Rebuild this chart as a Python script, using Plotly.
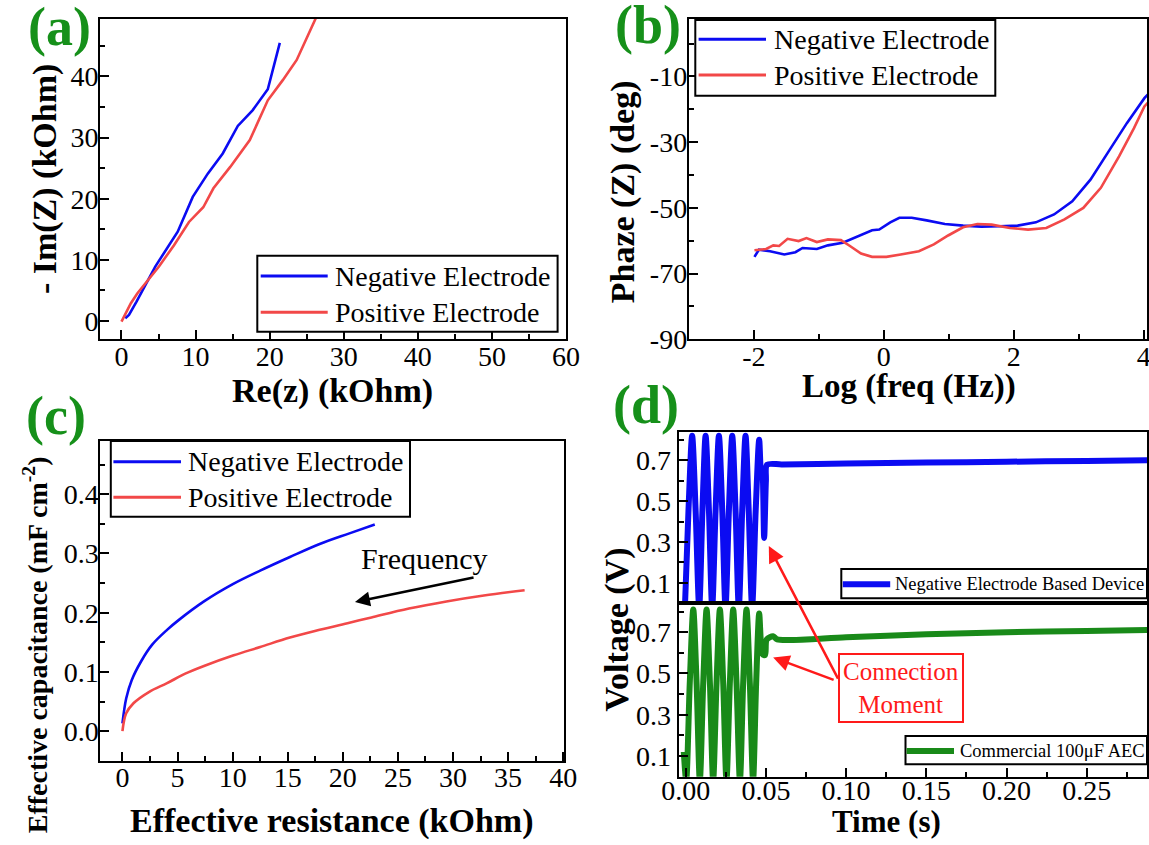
import plotly.graph_objects as go

W, H = 1149, 845
SERIF = "Liberation Serif, Times New Roman, DejaVu Serif, serif"
BLUE = "#0b0bf2"
RED = "#f24848"
GREEN = "#198a19"
LABEL_GREEN = "#16901a"

# ---------------- (a) Nyquist plot ----------------
neg_re = [0.51, 1.01, 2.03, 4.56, 7.59, 8.46, 9.62, 11.65, 13.67, 15.70, 17.72, 19.75, 21.37]
neg_im = [0.44, 0.98, 3.17, 8.9, 14.6, 17.1, 20.3, 24.1, 27.4, 31.9, 34.5, 37.9, 45.5]
pos_re = [0.0, 1.27, 2.13, 3.54, 5.06, 7.09, 9.11, 11.04, 12.41, 14.68, 17.32, 19.75, 21.77, 23.65, 25.06, 26.33]
pos_im = [-0.1, 2.9, 4.5, 6.7, 8.9, 12.4, 16.2, 18.6, 21.7, 25.2, 29.6, 36.1, 39.4, 42.7, 46.5, 49.8]

# ---------------- (b) Bode phase ----------------
neg_logf = [-1.99, -1.92, -1.75, -1.53, -1.36, -1.25, -1.03, -0.86, -0.63, -0.41, -0.18, -0.07,
            0.10, 0.24, 0.43, 0.66, 0.94, 1.22, 1.50, 1.78, 2.06, 2.34, 2.62, 2.90, 3.18,
            3.46, 3.74, 4.01, 4.13]
neg_phase = [-64.9, -62.7, -63.2, -64.2, -63.5, -62.2, -62.5, -61.4, -60.6, -58.8, -56.8, -56.6,
             -54.4, -53.0, -53.0, -53.8, -54.9, -55.4, -55.7, -55.6, -55.4, -54.4, -52.0, -48.0,
             -41.4, -32.8, -24.2, -16.6, -14.0]
pos_logf = [-1.99, -1.81, -1.70, -1.61, -1.48, -1.31, -1.19, -1.03, -0.86, -0.66, -0.52, -0.35,
            -0.18, 0.04, 0.26, 0.54, 0.77, 0.99, 1.22, 1.44, 1.66, 1.94, 2.22, 2.50, 2.78,
            3.07, 3.34, 3.62, 3.85, 4.01, 4.13]
pos_phase = [-62.9, -62.5, -61.4, -61.6, -59.4, -60.1, -59.2, -60.4, -59.6, -59.8, -61.6, -63.9,
             -64.9, -64.9, -64.2, -63.2, -61.1, -58.4, -55.9, -54.9, -55.1, -56.1, -56.6, -56.1,
             -53.5, -50.0, -43.9, -34.3, -25.7, -19.1, -16.6]
phase_ticks = [-90, -70, -50, -30, -10]
phase_ticktext = ["-90", "-70", "-50", "-30", "-10"]
logf_ticks = [-2, 0, 2, 4]
logf_ticktext = ["-2", "0", "2", "4"]

# ---------------- (c) Effective capacitance vs resistance ----------------
neg_r = [0.0, 0.34, 0.84, 1.7, 2.7, 4.05, 5.07, 7.4, 10.1, 12.5, 15.2, 17.9, 20.6, 22.9]
neg_c = [0.013, 0.055, 0.086, 0.118, 0.146, 0.171, 0.187, 0.219, 0.249, 0.271, 0.294, 0.316, 0.334, 0.349]
pos_r = [0.0, 0.34, 1.0, 2.4, 4.05, 5.7, 7.4, 10.1, 12.5, 15.2, 17.9, 20.6, 22.6, 26.0, 29.4, 32.8, 36.5]
pos_c = [0.0, 0.03, 0.047, 0.066, 0.081, 0.097, 0.11, 0.128, 0.142, 0.158, 0.171, 0.183, 0.192,
         0.207, 0.219, 0.229, 0.238]

# ---------------- (d) Voltage transients ----------------
dev_t = [-0.0005, 0.0017, 0.0040, 0.0062, 0.0084, 0.0104, 0.0124, 0.0145, 0.0165, 0.0186,
         0.0207, 0.0228, 0.0248, 0.0269, 0.0290, 0.0311, 0.0331, 0.0352, 0.0373, 0.0393,
         0.0414, 0.0436, 0.0458, 0.0470, 0.0478, 0.0489, 0.0500, 0.0507, 0.0600, 0.1000,
         0.1500, 0.2000, 0.2500, 0.2900]
dev_v = [-0.02, 0.45, 0.82, 0.45, -0.02, 0.45, 0.82, 0.45, -0.02, 0.45,
         0.82, 0.45, -0.02, 0.45, 0.82, 0.45, -0.02, 0.45, 0.82, 0.45,
         -0.02, 0.45, 0.80, 0.62, 0.66, 0.32, 0.60, 0.678, 0.680, 0.684,
         0.689, 0.693, 0.697, 0.700]
aec_t = [-0.0012, 0.0003, 0.0025, 0.0047, 0.0068, 0.0088, 0.0109, 0.0130, 0.0151, 0.0171,
         0.0192, 0.0213, 0.0234, 0.0254, 0.0275, 0.0296, 0.0317, 0.0338, 0.0358, 0.0379,
         0.0400, 0.0420, 0.0439, 0.0458, 0.0472, 0.0483, 0.0495, 0.0505, 0.0545, 0.0570,
         0.1000, 0.1500, 0.2000, 0.2500, 0.2900]
aec_v = [0.12, -0.02, 0.45, 0.81, 0.45, -0.02, 0.45, 0.81, 0.45, -0.02,
         0.45, 0.81, 0.45, -0.02, 0.45, 0.81, 0.45, -0.02, 0.45, 0.81,
         0.45, -0.02, 0.45, 0.79, 0.62, 0.59, 0.59, 0.665, 0.68, 0.665,
         0.676, 0.690, 0.700, 0.706, 0.711]
volt_ticks = [0.1, 0.3, 0.5, 0.7]
volt_ticktext = ["0.1", "0.3", "0.5", "0.7"]


def px(x):
    return x / W


def py(y):
    return 1 - y / H


fig = go.Figure()

fig.add_trace(go.Scatter(x=neg_re, y=neg_im, mode="lines", name="Negative Electrode",
                         line=dict(color=BLUE, width=2.6), xaxis="x", yaxis="y"))
fig.add_trace(go.Scatter(x=pos_re, y=pos_im, mode="lines", name="Positive Electrode",
                         line=dict(color=RED, width=2.6), xaxis="x", yaxis="y"))
fig.add_trace(go.Scatter(x=neg_logf, y=neg_phase, mode="lines", name="Negative Electrode",
                         line=dict(color=BLUE, width=2.6), xaxis="x2", yaxis="y2"))
fig.add_trace(go.Scatter(x=pos_logf, y=pos_phase, mode="lines", name="Positive Electrode",
                         line=dict(color=RED, width=2.6), xaxis="x2", yaxis="y2"))
fig.add_trace(go.Scatter(x=neg_r, y=neg_c, mode="lines", name="Negative Electrode",
                         line=dict(color=BLUE, width=2.6, shape="spline", smoothing=1.0),
                         xaxis="x3", yaxis="y3"))
fig.add_trace(go.Scatter(x=pos_r, y=pos_c, mode="lines", name="Positive Electrode",
                         line=dict(color=RED, width=2.6, shape="spline", smoothing=1.0),
                         xaxis="x3", yaxis="y3"))
fig.add_trace(go.Scatter(x=dev_t, y=dev_v, mode="lines", name="Negative Electrode Based Device",
                         line=dict(color=BLUE, width=6, shape="spline", smoothing=0.8),
                         xaxis="x4", yaxis="y4"))
fig.add_trace(go.Scatter(x=aec_t, y=aec_v, mode="lines", name="Commercial 100μF AEC",
                         line=dict(color=GREEN, width=6, shape="spline", smoothing=0.8),
                         xaxis="x5", yaxis="y5"))

tickfont = dict(family=SERIF, size=28, color="black")


def axis(domain, rng, **kw):
    base = dict(domain=domain, range=rng, showline=True, linecolor="black", linewidth=2,
                mirror=True, ticks="inside", ticklen=9, tickwidth=2, tickcolor="black",
                showgrid=False, zeroline=False, tickfont=tickfont, automargin=False,
                fixedrange=True, ticklabeloverflow="allow")
    base.update(kw)
    return base


def minor(d, t0=0):
    return dict(ticks="inside", ticklen=5, tickwidth=1.6, tickcolor="black",
                dtick=d, tick0=t0, showgrid=False)


dom_a_x = [px(100), px(566)]
dom_top_y = [py(339.3), py(19)]
dom_b_x = [px(688.8), px(1147)]
dom_c_x = [px(100.4), px(564.3)]
dom_c_y = [py(760.7), py(441)]
dom_d_x = [px(678.5), px(1147)]
dom_d1_y = [py(603.3), py(431.7)]
dom_d2_y = [py(776.7), py(603.3)]

XSTAND = -9
YSTAND = -6

fig.update_layout(
    width=W, height=H, margin=dict(l=0, r=0, t=0, b=0),
    paper_bgcolor="white", plot_bgcolor="white", showlegend=False,
    font=dict(family=SERIF, color="black"),
    xaxis=axis(dom_a_x, [-2.9, 60], anchor="y", dtick=10, minor=minor(5),
               ticklabelstandoff=XSTAND),
    yaxis=axis(dom_top_y, [-3, 49.4], anchor="x", dtick=10, minor=minor(5),
               ticklabelstandoff=YSTAND),
    xaxis2=axis(dom_b_x, [-3, 4.05], anchor="y2", tickmode="array", tickvals=logf_ticks,
                ticktext=logf_ticktext, minor=minor(1), ticklabelstandoff=XSTAND),
    yaxis2=axis(dom_top_y, [-90, 7.5], anchor="x2", tickmode="array", tickvals=phase_ticks,
                ticktext=phase_ticktext, minor=minor(10), ticklabelstandoff=YSTAND),
    xaxis3=axis(dom_c_x, [-2, 40.1], anchor="y3", dtick=5, minor=minor(2.5),
                ticklabelstandoff=XSTAND),
    yaxis3=axis(dom_c_y, [-0.05, 0.49], anchor="x3", dtick=0.1, tickformat=".1f",
                minor=minor(0.05), ticklabelstandoff=YSTAND),
    xaxis4=axis(dom_d_x, [-0.0045, 0.2876], anchor="y4", showticklabels=False, ticks="",
                matches="x5"),
    yaxis4=axis(dom_d1_y, [0, 0.84], anchor="x4", tickmode="array", tickvals=volt_ticks,
                ticktext=volt_ticktext, minor=minor(0.1)),
    xaxis5=axis(dom_d_x, [-0.0045, 0.2876], anchor="y5", dtick=0.05, tickformat=".2f",
                minor=minor(0.025), ticklabelstandoff=-12),
    yaxis5=axis(dom_d2_y, [0, 0.84], anchor="x5", tickmode="array", tickvals=volt_ticks,
                ticktext=volt_ticktext, minor=minor(0.1)),
)

shapes = []
annotations = []


def text(x, y, s, size, bold=False, color="black", angle=0, xanchor="center"):
    annotations.append(dict(
        x=px(x), y=py(y), xref="paper", yref="paper", text=(f"<b>{s}</b>" if bold else s),
        showarrow=False, textangle=angle, xanchor=xanchor, yanchor="middle",
        font=dict(family=SERIF, size=size, color=color)))


def legend(box, rows, size, sample_w):
    x0, x1, y0, y1 = box
    shapes.append(dict(type="rect", xref="paper", yref="paper", x0=px(x0), x1=px(x1),
                       y0=py(y1), y1=py(y0), line=dict(color="black", width=2),
                       fillcolor="white", layer="above"))
    for (sx0, sx1, yy, color, tx, label) in rows:
        shapes.append(dict(type="line", xref="paper", yref="paper", x0=px(sx0), x1=px(sx1),
                           y0=py(yy), y1=py(yy), line=dict(color=color, width=sample_w),
                           layer="above"))
        text(tx, yy, label, size, xanchor="left")


# panel letters
text(59, 27, "(a)", 54, bold=True, color=LABEL_GREEN)
text(648, 25, "(b)", 54, bold=True, color=LABEL_GREEN)
text(56, 416, "(c)", 54, bold=True, color=LABEL_GREEN)
text(646, 405, "(d)", 54, bold=True, color=LABEL_GREEN)

# axis titles
text(332, 391, "Re(z) (kOhm)", 34, bold=True)
text(44.6, 179.5, "- Im(Z) (kOhm)", 34, bold=True, angle=-90)
text(908.5, 386, "Log (freq (Hz))", 33, bold=True)
text(623.8, 191.5, "Phaze (Z) (deg)", 34, bold=True, angle=-90)
text(331.8, 821, "Effective resistance (kOhm)", 34, bold=True)
text(35.3, 645, "Effective capacitance (mF cm<sup>-2</sup>)", 28, bold=True, angle=-90)
text(886.5, 821, "Time (s)", 31, bold=True)
text(616.5, 630, "Voltage (V)", 34, bold=True, angle=-90)

# legends
legend((257.3, 557.6, 255.7, 331.7),
       [(260.7, 327.7, 276, BLUE, 333, "Negative Electrode"),
        (260.7, 327.7, 312.3, RED, 333, "Positive Electrode")], 28, 3)
legend((695.3, 995.3, 20, 95.7),
       [(698.6, 766, 39.3, BLUE, 771.6, "Negative Electrode"),
        (698.6, 766, 75, RED, 771.6, "Positive Electrode")], 28, 3)
legend((110.8, 410, 441, 516.7),
       [(113.4, 181, 461.7, BLUE, 185.9, "Negative Electrode"),
        (113.4, 181, 497.3, RED, 185.9, "Positive Electrode")], 28, 3)
legend((841.3, 1147, 569, 598.3),
       [(842.8, 890.2, 584.3, BLUE, 893, "Negative Electrode Based Device")], 18.5, 6)
legend((905.5, 1147, 736, 764.3),
       [(906.6, 954, 751, GREEN, 957.7, "Commercial 100μF AEC")], 18.5, 6)

# frequency direction arrow in (c)
annotations.append(dict(x=21.1, y=0.218, xref="x3", yref="y3", ax=32.0, ay=0.26,
                        axref="x3", ayref="y3", showarrow=True, arrowhead=2, arrowsize=1.2,
                        arrowwidth=2.5, arrowcolor="black", text=""))
annotations.append(dict(x=27.4, y=0.291, xref="x3", yref="y3", text="Frequency",
                        showarrow=False, font=dict(family=SERIF, size=30, color="black")))

# connection-moment callout in (d)
annotations.append(dict(x=0.0518, y=0.28, xref="x4", yref="y4", ax=70, ay=134,
                        showarrow=True, arrowhead=2, arrowsize=1.3, arrowwidth=2.5,
                        arrowcolor="#ff1a1a", text=""))
annotations.append(dict(x=0.0545, y=0.578, xref="x5", yref="y5", ax=62, ay=23,
                        showarrow=True, arrowhead=2, arrowsize=1.3, arrowwidth=2.5,
                        arrowcolor="#ff1a1a", text=""))
annotations.append(dict(x=px(900.8), y=py(687.9), xref="paper", yref="paper",
                        text="Connection<br>Moment", showarrow=False, xanchor="center",
                        yanchor="middle", bordercolor="#ff1a1a", borderwidth=2, borderpad=3,
                        font=dict(family=SERIF, size=25, color="#ff1a1a")))

fig.update_layout(shapes=shapes, annotations=annotations)

fig.write_html("out.html")
